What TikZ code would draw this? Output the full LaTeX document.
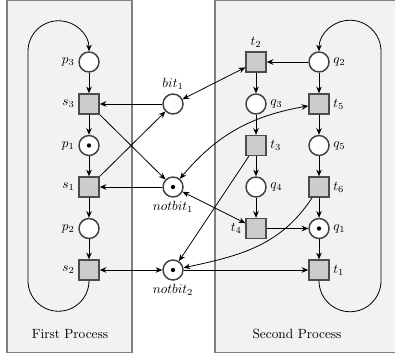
\documentclass[tikz,border=0pt]{standalone}
\usetikzlibrary{arrows.meta}
\begin{document}
\begin{tikzpicture}[x=0.75pt,y=0.75pt,
  place/.style={circle,draw=black!75,fill=white,line width=1.1pt,minimum size=15pt,inner sep=0pt},
  trans/.style={rectangle,draw=black!70,fill=black!20,line width=1.1pt,minimum size=15pt,inner sep=0pt},
  token/.style={path picture={\fill[black] (path picture bounding box.center) circle (1.6pt);}},
  procbox/.style={draw=black!50,fill=black!5,line width=0.8pt},
  arc/.style={draw=black,line width=0.6pt,-{Stealth[length=5pt,width=4.2pt]}},
  biarc/.style={draw=black,line width=0.6pt,{Stealth[length=5pt,width=4.2pt]}-{Stealth[length=5pt,width=4.2pt]}},
  lab/.style={inner sep=2.5pt}]
\useasboundingbox (0,0) rectangle (395,-356);
\clip (0,0) rectangle (395,-356);

% process regions
\draw[procbox] (7,-0.5) rectangle (132,-352.5);
\draw[procbox] (215,-0.5) rectangle (400,-352.5);
\node (fp) at (70,-334) {First Process};
\node (sp) at (297,-334) {Second Process};

% first process
\node[place,label={[lab]left:$p_3$}] (p3) at (89,-62) {};
\node[trans,label={[lab]left:$s_3$}] (s3) at (89,-104) {};
\node[place,token,label={[lab]left:$p_1$}] (p1) at (89,-145.5) {};
\node[trans,label={[lab]left:$s_1$}] (s1) at (89,-187) {};
\node[place,label={[lab]left:$p_2$}] (p2) at (89,-228.5) {};
\node[trans,label={[lab]left:$s_2$}] (s2) at (89,-270) {};

% shared variables
\node[place,label={[lab]above:$bit_1$}] (bit1) at (173,-104) {};
\node[place,token,label={[lab]below:$notbit_1$}] (nb1) at (173,-187) {};
\node[place,token,label={[lab]below:$notbit_2$}] (nb2) at (173,-270) {};

% second process
\node[trans,label={[lab]above:$t_2$}] (t2) at (256,-62) {};
\node[place,label={[lab]right:$q_2$}] (q2) at (319,-62) {};
\node[place,label={[lab]right:$q_3$}] (q3) at (256,-104) {};
\node[trans,label={[lab]right:$t_5$}] (t5) at (319,-104) {};
\node[trans,label={[lab]right:$t_3$}] (t3) at (256,-145.5) {};
\node[place,label={[lab]right:$q_5$}] (q5) at (319,-145.5) {};
\node[place,label={[lab]right:$q_4$}] (q4) at (256,-187) {};
\node[trans,label={[lab]right:$t_6$}] (t6) at (319,-187) {};
\node[trans,label={[lab]left:$t_4$}] (t4) at (256,-228.5) {};
\node[place,token,label={[lab]right:$q_1$}] (q1) at (319,-228.5) {};
\node[trans,label={[lab]right:$t_1$}] (t1) at (319,-270) {};

% flow of the first process
\draw[arc] (p3) -- (s3);
\draw[arc] (s3) -- (p1);
\draw[arc] (p1) -- (s1);
\draw[arc] (s1) -- (p2);
\draw[arc] (p2) -- (s2);
\draw[arc] (s2.south) arc[start angle=0,end angle=-180,radius=30.5]
  -- ([xshift=-61pt*0.75]p3.north) arc[start angle=180,end angle=0,radius=30.5];

% flow of the second process
\draw[arc] (q2) -- (t2);
\draw[arc] (q2) -- (t5);
\draw[arc] (t2) -- (q3);
\draw[arc] (q3) -- (t3);
\draw[arc] (t3) -- (q4);
\draw[arc] (q4) -- (t4);
\draw[arc] (t5) -- (q5);
\draw[arc] (q5) -- (t6);
\draw[arc] (t6) -- (q1);
\draw[arc] (t4) -- (q1);
\draw[arc] (q1) -- (t1);
\draw[arc] (t1.south) arc[start angle=180,end angle=360,radius=31]
  -- ([xshift=62pt*0.75]q2.north) arc[start angle=0,end angle=180,radius=31];

% arcs to and from the shared variables
\draw[arc] (bit1) -- (s3);
\draw[arc] (s3) -- (nb1);
\draw[arc] (s1) -- (bit1);
\draw[arc] (nb1) -- (s1);
\draw[biarc] (s2) -- (nb2);
\draw[biarc] (bit1) -- (t2);
\draw[biarc] (nb1) to[out=50,in=190] (t5);
\draw[biarc] (nb1) -- (t4);
\draw[arc] (t3) -- (nb2);
\draw[arc] (t6) to[out=237,in=12] (nb2);
\draw[arc] (nb2) -- (t1);
\end{tikzpicture}
\end{document}
